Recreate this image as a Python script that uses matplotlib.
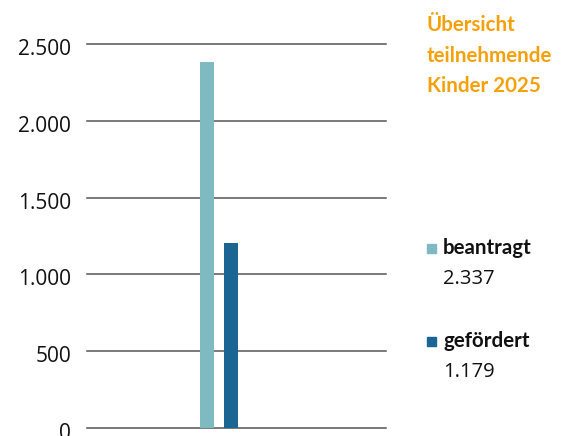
from matplotlib import pyplot as plt
from matplotlib import transforms

# data
labels = ["beantragt", "gefördert"]
bar_heights = [2380, 1205]          # heights as drawn in the chart
value_texts = ["2.337", "1.179"]    # numbers written in the legend
colors = ["#7fbac3", "#1a6592"]
y_ticks = [0, 500, 1000, 1500, 2000, 2500]
y_tick_labels = ["0", "500", "1.000", "1.500", "2.000", "2.500"]
title_lines = ["Übersicht", "teilnehmende", "Kinder 2025"]

plt.rcParams['font.family'] = ['Lato', 'DejaVu Sans']
num_font = ['Open Sans', 'DejaVu Sans']

fig = plt.figure(figsize=(5.65, 4.36), dpi=100)
W, H = 565, 436
ax = fig.add_axes([87 / W, (H - 428) / H, (386 - 87) / W, (428 - 44) / H])

ax.bar([0, 1], bar_heights, width=0.574, color=colors, zorder=3)
ax.set_xlim(-4.92, 7.34)
ax.set_ylim(0, 2500)

for t in y_ticks:
    ax.axhline(t, color="#555555", linewidth=1.1, zorder=1, clip_on=False)

ax.set_yticks(y_ticks)
ax.set_yticklabels(y_tick_labels, fontsize=15, color="#111111", family=num_font)
ax.tick_params(axis="y", length=0, pad=11.5)
# labels sit a little below their lines
shift = transforms.ScaledTranslation(0, -3 / 100, fig.dpi_scale_trans)
for lab in ax.get_yticklabels():
    lab.set_transform(lab.get_transform() + shift)
ax.set_xticks([])
for s in ax.spines.values():
    s.set_visible(False)

# title block on the right
for i, line in enumerate(title_lines):
    fig.text(427 / W, 1 - (25 + i * 30.5) / H, line, color="#f5a00a",
             fontsize=14.8, fontweight="bold", va="center", ha="left")

# legend with values
legend_y = [248, 341]
for i in range(2):
    y = legend_y[i]
    fig.patches.append(plt.Rectangle((427 / W, 1 - (y + 4.5) / H), 8.5 / W, 8.5 / H,
                                     transform=fig.transFigure, color=colors[i]))
    fig.text(443 / W, 1 - y / H, labels[i], fontsize=14.8, fontweight="bold",
             color="#111111", va="center", ha="left")
    fig.text(443 / W, 1 - (y + 31) / H, value_texts[i], fontsize=14.5,
             color="#111111", va="center", ha="left", family=num_font)

fig.savefig("out.png", dpi=100)
